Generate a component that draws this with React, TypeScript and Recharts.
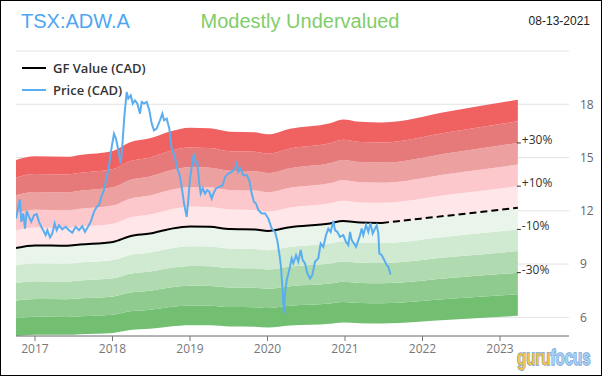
import React from 'react';
import {
  ComposedChart, Line, Area, XAxis, YAxis, CartesianGrid, ReferenceDot,
} from 'recharts';

// ---------- data ----------
const priceYears = [
  2016.755, 2016.806, 2016.823, 2016.849, 2016.871, 2016.893, 2016.923, 2016.952, 2016.987,
  2017.022, 2017.052, 2017.094, 2017.138, 2017.159, 2017.194, 2017.223, 2017.254, 2017.28,
  2017.31, 2017.352, 2017.396, 2017.439, 2017.481, 2017.525, 2017.568, 2017.61, 2017.645,
  2017.684, 2017.719, 2017.761, 2017.796, 2017.826, 2017.855, 2017.89, 2017.912, 2017.946,
  2017.99, 2018.019, 2018.045, 2018.075, 2018.106, 2018.126, 2018.152, 2018.183, 2018.204,
  2018.235, 2018.261, 2018.29, 2018.32, 2018.355, 2018.377, 2018.406, 2018.441, 2018.475,
  2018.506, 2018.535, 2018.57, 2018.613, 2018.643, 2018.665, 2018.699, 2018.733, 2018.764,
  2018.806, 2018.828, 2018.862, 2018.893, 2018.923, 2018.957, 2018.978, 2019.0, 2019.035,
  2019.052, 2019.077, 2019.094, 2019.12, 2019.138, 2019.164, 2019.194, 2019.223, 2019.249,
  2019.28, 2019.301, 2019.335, 2019.378, 2019.422, 2019.452, 2019.494, 2019.538, 2019.581,
  2019.603, 2019.623, 2019.654, 2019.688, 2019.732, 2019.765, 2019.796, 2019.826, 2019.852,
  2019.881, 2019.925, 2019.968, 2020.01, 2020.054, 2020.097, 2020.126, 2020.152, 2020.174,
  2020.191, 2020.213, 2020.226, 2020.248, 2020.281, 2020.312, 2020.333, 2020.368, 2020.397,
  2020.428, 2020.454, 2020.484, 2020.514, 2020.548, 2020.578, 2020.613, 2020.655, 2020.686,
  2020.72, 2020.755, 2020.785, 2020.815, 2020.849, 2020.871, 2020.901, 2020.935, 2020.978,
  2021.013, 2021.043, 2021.065, 2021.086, 2021.116, 2021.142, 2021.172, 2021.194, 2021.215,
  2021.236, 2021.271, 2021.301, 2021.328, 2021.357, 2021.387, 2021.409, 2021.43, 2021.443,
  2021.474, 2021.507, 2021.538, 2021.559, 2021.587,
];
const priceValues = [
  11.57, 12.64, 11.38, 11.85, 11.0, 12.0, 11.66, 11.38, 11.75,
  11.81, 11.38, 11.0, 10.63, 10.91, 10.5, 10.72, 11.29, 10.91,
  11.19, 10.95, 11.1, 10.91, 10.76, 11.1, 10.91, 11.14, 10.81,
  11.1, 11.38, 11.94, 12.22, 12.32, 12.78, 13.16, 13.63, 14.28,
  15.6, 16.35, 16.07, 15.41, 14.66, 15.6, 17.28, 18.69, 18.32,
  18.5, 18.04, 18.22, 18.04, 17.47, 18.13, 18.04, 18.13, 17.66,
  16.91, 16.53, 16.63, 17.1, 17.47, 17.1, 17.19, 16.63, 15.5,
  15.03, 14.47, 14.1, 13.35, 12.41, 11.66, 12.6, 13.82, 14.85,
  15.22, 14.66, 14.75, 13.54, 12.97, 13.26, 12.97, 13.16, 13.07,
  12.69, 12.97, 13.26, 13.35, 13.44, 13.91, 14.1, 14.19, 14.38,
  14.66, 14.19, 14.38, 14.0, 14.0, 13.72, 12.97, 12.5, 12.41,
  12.05, 11.85, 11.85, 11.57, 11.0, 10.81, 10.35, 9.6, 8.85,
  7.72, 6.22, 7.35, 8.1, 8.66, 9.32, 9.04, 9.5, 9.13,
  9.79, 9.22, 9.04, 8.47, 8.19, 8.38, 9.13, 9.32, 10.16,
  9.97, 10.63, 11.0, 10.81, 11.43, 10.91, 10.81, 10.53, 10.63,
  10.25, 10.07, 10.81, 10.35, 10.16, 9.97, 10.35, 10.63, 11.0,
  10.63, 11.19, 10.81, 11.32, 10.72, 11.0, 11.19, 10.72, 9.6,
  9.5, 9.22, 8.94, 8.85, 8.41,
];

const gfYears = [
  2016.755, 2017.0, 2017.413, 2017.581, 2018.006, 2018.226, 2018.484, 2018.742, 2019.0,
  2019.258, 2019.516, 2019.839, 2020.006, 2020.29, 2020.806, 2020.974, 2021.194, 2021.477,
];
const gfValues = [
  9.91, 10.05, 10.03, 10.1, 10.25, 10.57, 10.72, 10.98, 11.12,
  11.1, 10.97, 10.95, 10.87, 11.08, 11.29, 11.43, 11.34, 11.32,
];
const projYears = [2021.477, 2022.35, 2023.23];
const projValues = [11.32, 11.74, 12.17];

// band multipliers (lower, upper) relative to GF Value, bottom to top
const bandLows = [0.5, 0.6, 0.7, 0.8, 0.9, 1.0, 1.1, 1.2, 1.3, 1.4];
const bandHighs = [0.6, 0.7, 0.8, 0.9, 1.0, 1.1, 1.2, 1.3, 1.4, 1.5];
const bandColors = [
  '#72bf72', '#8fcb8e', '#b0dbb0', '#d0e9d1', '#e9f5ea',
  '#ffe6e9', '#fdc8cc', '#eda0a0', '#e67a7a', '#f06262',
];

const pctLabels = ['+30%', '+10%', '-10%', '-30%'];
const pctFactors = [1.3, 1.1, 0.9, 0.7];

const yearTicks = [2017, 2018, 2019, 2020, 2021, 2022, 2023];
const valueTicks = [6, 9, 12, 15, 18, 21];

// ---------- derived tables ----------
const priceData = priceYears.map((x, i) => ({ x, price: priceValues[i] }));
const gfData = gfYears.map((x, i) => ({ x, gf: gfValues[i] }));
const projData = projYears.map((x, i) => ({ x, gf: projValues[i] }));
const allGf = [...gfData, ...projData.slice(1)];
const bandData = allGf.map((d) => {
  const row: any = { x: d.x };
  bandLows.forEach((lo, i) => {
    row['b' + i] = [d.gf * lo, d.gf * bandHighs[i]];
  });
  return row;
});
const lastGf = projValues[projValues.length - 1];
const lastYear = projYears[projYears.length - 1];

const PctMark = (props: any) => {
  const { cx, cy, label } = props;
  if (cx == null || cy == null) return null;
  return (
    <g>
      <line x1={cx - 1} x2={cx + 3} y1={cy} y2={cy} stroke="#333" strokeWidth={1} />
      <text x={cx + 4} y={cy + 1} fontSize={12} fill="#333" fontFamily="'Open Sans', sans-serif">
        {label}
      </text>
    </g>
  );
};

export default function App() {
  return (
    <div
      style={{
        position: 'absolute', left: 0, top: 0, width: 602, height: 376,
        boxSizing: 'border-box', border: '1px solid #000', background: '#fff',
        fontFamily: "'Liberation Sans', Arial, sans-serif", overflow: 'hidden',
      }}
    >
      <div style={{ position: 'absolute', left: 0, top: 0 }}>
        <ComposedChart
          width={601}
          height={375}
          margin={{ top: 50, right: 0, bottom: 0, left: 15 }}
        >
          <CartesianGrid horizontal vertical={false} stroke="#e3e3e3" />
          <XAxis
            type="number"
            dataKey="x"
            domain={[2016.755, 2023.89]}
            ticks={yearTicks}
            allowDataOverflow
            height={40}
            stroke="#777"
            tickSize={5}
            tickMargin={3}
            tick={{ fill: '#777', fontSize: 12, fontFamily: "'Open Sans', sans-serif" }}
          />
          <YAxis
            type="number"
            orientation="right"
            domain={[4.95, 21]}
            ticks={valueTicks}
            allowDataOverflow
            width={33}
            axisLine={false}
            tickLine={false}
            tickMargin={5}
            tickFormatter={(v: number) => (v === 21 ? '' : String(v))}
            tick={{ fill: '#666', fontSize: 12, fontFamily: "'Open Sans', sans-serif" }}
          />
          {bandColors.map((c, i) => (
            <Area
              key={'b' + i}
              data={bandData}
              dataKey={'b' + i}
              type="monotone"
              stroke="none"
              fill={c}
              fillOpacity={1}
              isAnimationActive={false}
              activeDot={false}
              dot={false}
            />
          ))}
          <Line
            data={gfData}
            dataKey="gf"
            type="monotone"
            stroke="#000"
            strokeWidth={2}
            dot={false}
            activeDot={false}
            isAnimationActive={false}
          />
          <Line
            data={projData}
            dataKey="gf"
            type="monotone"
            stroke="#000"
            strokeWidth={2}
            strokeDasharray="7 4"
            dot={false}
            activeDot={false}
            isAnimationActive={false}
          />
          <Line
            data={priceData}
            dataKey="price"
            type="linear"
            stroke="#5aaef0"
            strokeWidth={2}
            dot={false}
            activeDot={false}
            isAnimationActive={false}
          />
          {pctLabels.map((l, i) => (
            <ReferenceDot
              key={l}
              x={lastYear}
              y={lastGf * pctFactors[i]}
              r={0}
              ifOverflow="visible"
              shape={(p: any) => <PctMark {...p} label={l} />}
            />
          ))}
        </ComposedChart>
      </div>

      {/* header */}
      <div style={{ position: 'absolute', left: 20, top: 9, fontSize: 20, color: '#4ea6f2' }}>
        TSX:ADW.A
      </div>
      <div style={{ position: 'absolute', left: 0, width: 598, top: 9, fontSize: 20, color: '#7fcd6b', textAlign: 'center' }}>
        Modestly Undervalued
      </div>
      <div style={{ position: 'absolute', right: 11, top: 13, fontSize: 12, color: '#222' }}>
        08-13-2021
      </div>

      {/* legend */}
      <div style={{ position: 'absolute', left: 21, top: 56, fontFamily: "'Open Sans', sans-serif", fontSize: 13, fontWeight: 600, color: '#333', lineHeight: '22px' }}>
        <div style={{ display: 'flex', alignItems: 'center' }}>
          <span style={{ display: 'inline-block', width: 24, height: 2, background: '#000', marginRight: 7 }} />
          GF Value (CAD)
        </div>
        <div style={{ display: 'flex', alignItems: 'center' }}>
          <span style={{ display: 'inline-block', width: 24, height: 2, background: '#5aaef0', marginRight: 7 }} />
          Price (CAD)
        </div>
      </div>

      {/* logo */}
      <svg style={{ position: 'absolute', left: 512, top: 340 }} width={86} height={34}>
        <g transform="scale(1,1.45)">
          <text x={4} y={16.5} fontSize={15} fontWeight={700} fontFamily="'Liberation Sans', Arial, sans-serif"
            stroke="#6f9fd8" strokeWidth={1} paintOrder="stroke" fill="#f5c242">
            guru
          </text>
          <text x={37.5} y={16.5} fontSize={15} fontWeight={700} fontFamily="'Liberation Sans', Arial, sans-serif"
            stroke="#6f9fd8" strokeWidth={1} paintOrder="stroke" fill="#a9cdf0">
            focus
          </text>
        </g>
      </svg>
    </div>
  );
}
